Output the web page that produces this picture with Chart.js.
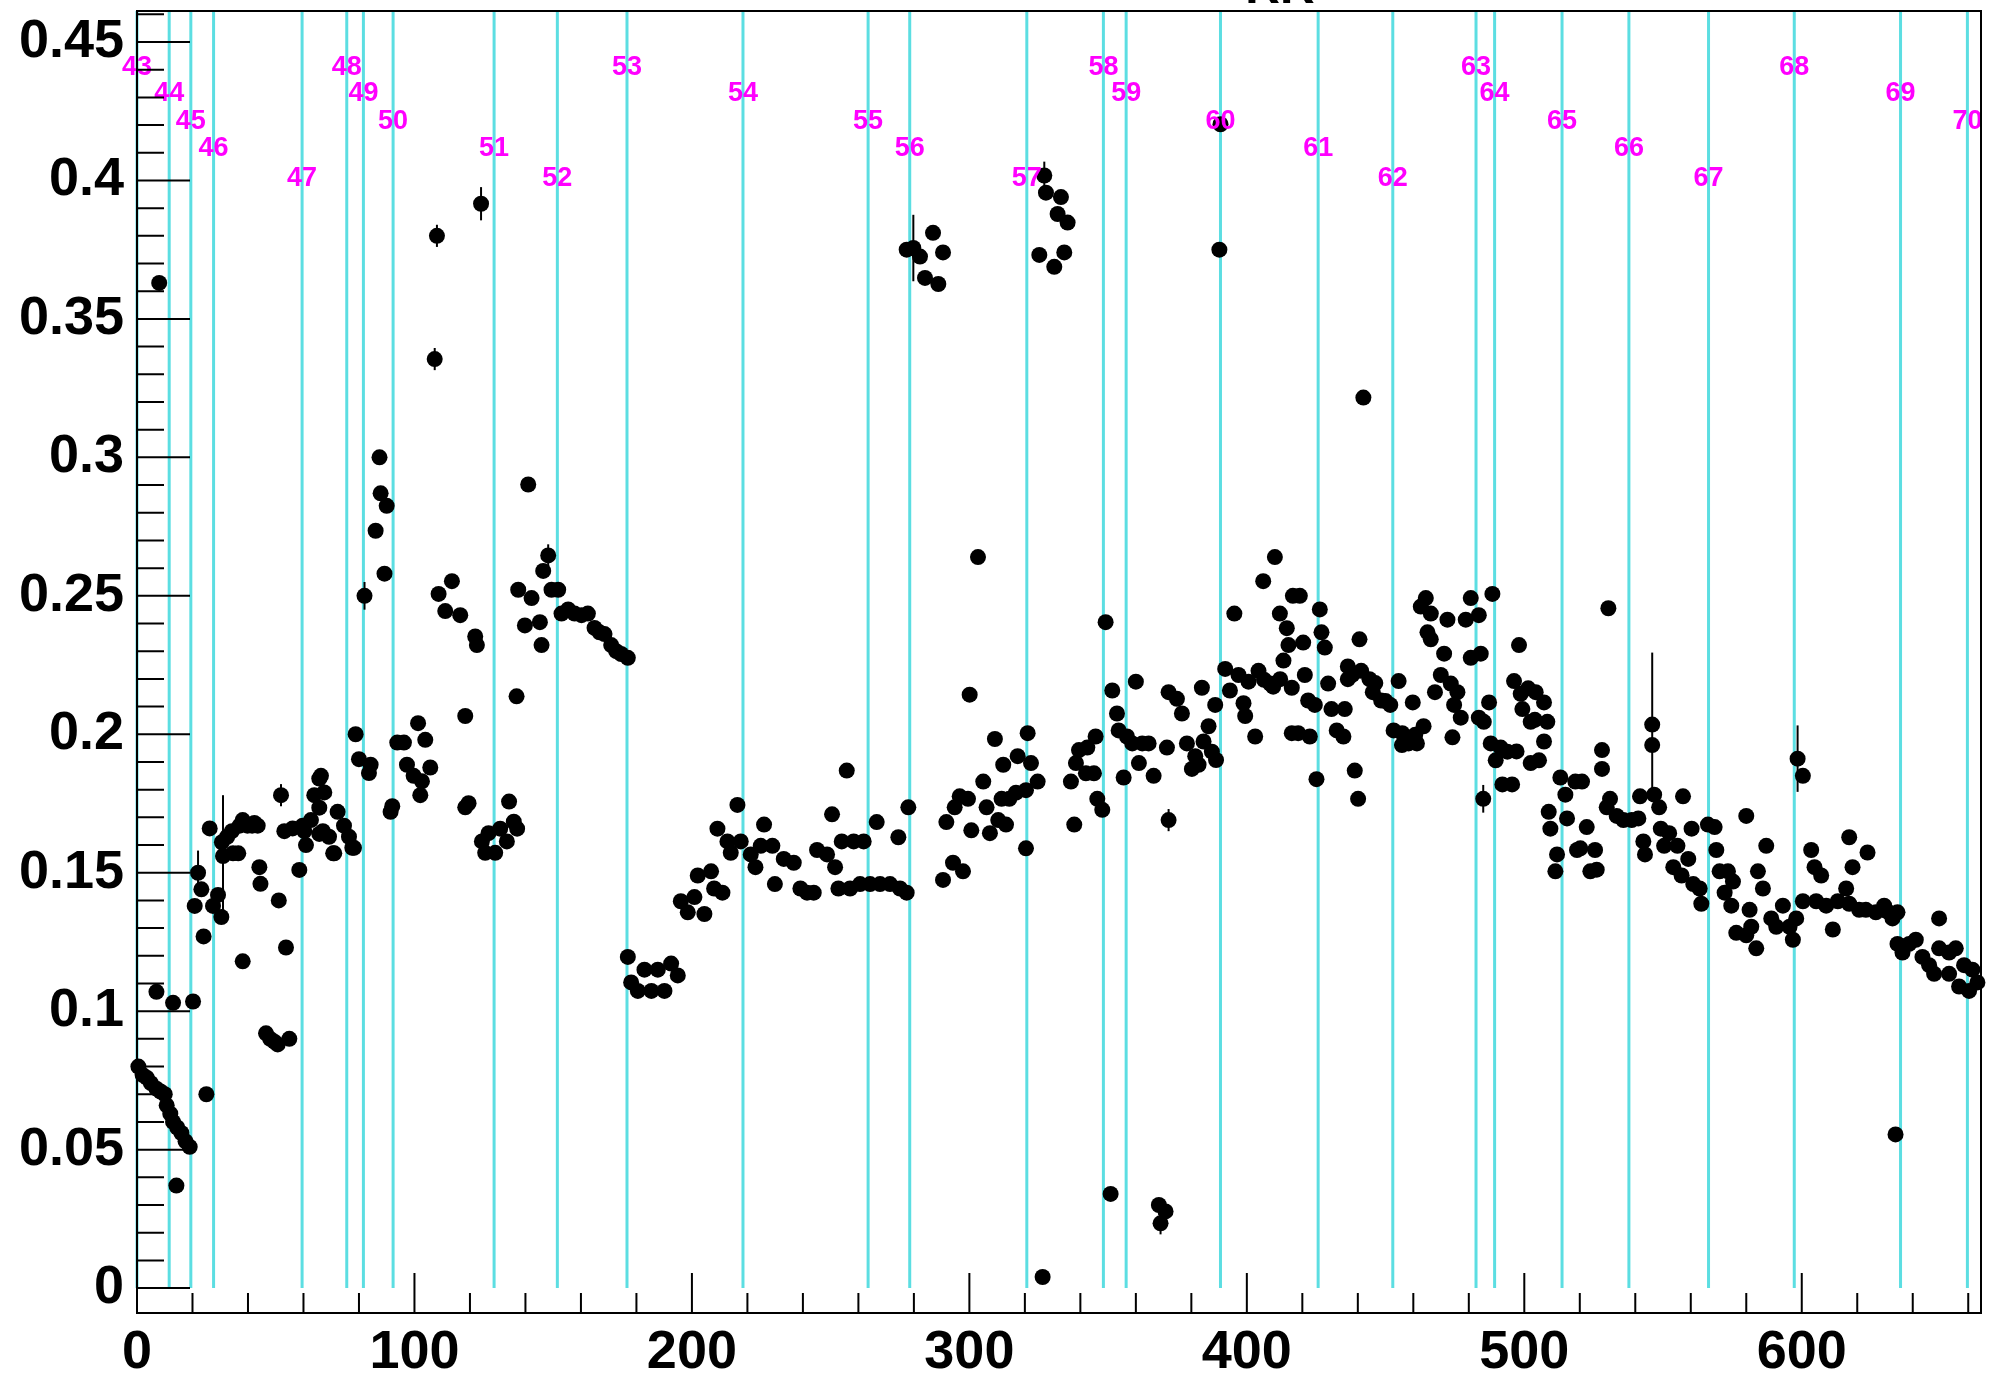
<!DOCTYPE html>
<html>
<head>
<meta charset="utf-8">
<script src="https://cdn.jsdelivr.net/npm/chart.js@4.4.1/dist/chart.umd.min.js"></script>
<style>
  html, body { margin: 0; padding: 0; background: #fff; }
</style>
</head>
<body>
<canvas id="runs" width="1989" height="1373"></canvas>
<script>
// data
const entryX = [
  0.5, 2, 3.5, 5, 7, 7, 8, 8.5, 10, 10.7,
  12, 13, 13, 14.2, 14.5, 16, 17.5, 19, 20.2, 20.8,
  22, 23.2, 24, 25, 26.2, 27.4, 29.2, 30.4, 30.6, 31,
  32.5, 34.2, 34.6, 36.5, 37, 38.1, 38.1, 39.8, 41.5, 42.3,
  43.5, 44.1, 44.5, 46.5, 48, 49.5, 50.7, 51.1, 51.9, 53.1,
  53.7, 54.9, 56.1, 58.5, 59.7, 60.3, 60.9, 62.7, 63.9, 65.7,
  65.7, 65.7, 66.3, 67, 67.5, 69.2, 70.7, 71.1, 72.3, 74.6,
  76.4, 77.6, 78.2, 78.8, 80, 82, 83.6, 84.2, 86, 87.4,
  87.8, 89.2, 90, 91.4, 92, 93.8, 96.2, 97.3, 99.7, 101.3,
  102.1, 102.7, 103.9, 105.7, 107.3, 108.1, 108.7, 111.1, 113.5, 116.5,
  118.3, 118.3, 119.5, 121.9, 122.5, 124, 124.3, 125.5, 126.7, 129.1,
  130.9, 133.3, 134.1, 135.8, 137, 136.8, 137.4, 139.8, 141, 142.2,
  145.2, 145.8, 146.4, 148.2, 149.4, 151.8, 153, 155.4, 157.7, 160.2,
  162.5, 164.9, 166.7, 168.5, 170.9, 172.7, 174.5, 176.9, 176.9, 178.1,
  180.5, 182.9, 185.4, 187.7, 190.1, 192.5, 194.9, 196, 198.5, 200.9,
  202.1, 204.5, 206.9, 208, 209.2, 211, 212.8, 214, 216.4, 217.6,
  221.2, 222.9, 224.8, 226, 229, 229.9, 233.1, 236.7, 239.1, 241.5,
  243.9, 245.1, 248.7, 250.5, 251.6, 252.8, 254, 255.8, 257, 258.3,
  260.6, 261.9, 264.2, 266.6, 267.8, 271.4, 274.4, 275, 277.4, 278,
  277.4, 279.8, 282.2, 284, 286.9, 288.8, 290.5, 290.5, 291.7, 294.1,
  294.7, 296.5, 297.7, 299.5, 300.1, 300.7, 303.1, 305, 306.2, 307.4,
  309.2, 310.4, 311.6, 312.2, 313.2, 314.4, 316.8, 317.4, 320.4, 320.4,
  321, 322.2, 324.6, 325.2, 326.4, 327, 327.6, 330.6, 331.8, 333,
  334.2, 335.4, 336.6, 337.8, 338.4, 339.5, 342, 342.5, 344.9, 345.5,
  346.1, 347.9, 349.1, 350.9, 351.5, 353.2, 353.8, 355.6, 356.8, 358.7,
  360, 361.1, 362.3, 364.6, 366.4, 368.3, 368.9, 370.7, 371.2, 371.8,
  371.8, 374.8, 376.6, 378.4, 380.2, 381.4, 382.6, 383.8, 384.4, 386.2,
  387.4, 388.6, 390.1, 390.5, 392.2, 393.9, 395.5, 397, 398.8, 399.4,
  400.6, 403, 404.2, 405.9, 408.4, 410.1, 411.9, 412, 413.2, 414.4,
  415, 416.2, 416.2, 416.6, 418.5, 419.1, 420.3, 420.9, 422.1, 422.7,
  424.5, 425.1, 426.3, 426.9, 428.1, 429.3, 430.5, 432.4, 434.8, 435.3,
  436.4, 436.4, 438.9, 440.1, 440.6, 441.2, 442, 444.2, 445.4, 448.4,
  451.7, 452.9, 454.7, 455.9, 458.3, 459.8, 461.3, 462.7, 463.7, 464.5,
  465.1, 466.3, 466.3, 467.8, 469.9, 471.1, 472.3, 473.5, 474.1, 474.7,
  475.9, 477.1, 478.9, 480.7, 480.7, 483.6, 483.6, 484.3, 485.2, 485.4,
  487.3, 487.9, 488.5, 489.7, 491.5, 492.1, 493.9, 495.6, 496.3, 498.1,
  498.7, 499.3, 502.3, 502.3, 504.1, 505.3, 507.1, 507.1, 508.3, 508.8,
  509.4, 511.2, 511.8, 513, 514.8, 515.4, 518.4, 519, 520.2, 520.8,
  522.5, 523.8, 525.5, 526.1, 528, 528, 529.7, 530.3, 530.9, 533.3,
  535.7, 538.7, 541.1, 541.7, 542.9, 543.5, 546.1, 546.1, 546.8, 548.6,
  549.2, 550.4, 552.2, 553.7, 555.2, 556.7, 557.2, 559.1, 560.3, 560.9,
  563.2, 563.8, 566.2, 568.6, 569.2, 570.4, 572.2, 573.4, 574.6, 575.2,
  576.4, 580, 580, 581.2, 581.8, 583.6, 584.2, 586, 587.2, 589,
  590.8, 593.2, 595.6, 596.8, 598, 598.5, 600.4, 600.4, 603.4, 604.6,
  605.2, 607, 608.8, 611.2, 613, 616, 617.1, 617.1, 618.3, 620.7,
  623.1, 623.7, 626.7, 629.7, 630.9, 632.7, 633.8, 634.5, 634.5, 636.3,
  638.7, 641.1, 643.5, 645.9, 647.7, 649.5, 649.5, 653.1, 653.1, 655.5,
  656.7, 658.5, 660.3, 661.5, 663.3,
  409.5, 406.2, 388.9, 438, 446.3, 450, 456, 460.7, 497.2, 501.4, 503.8
];

const entryY = [
  0.080, 0.077, 0.076, 0.074, 0.072, 0.107, 0.363, 0.071, 0.070, 0.066,
  0.063, 0.060, 0.103, 0.037, 0.058, 0.056, 0.053, 0.051, 0.1035, 0.138,
  0.150, 0.144, 0.127, 0.070, 0.166, 0.138, 0.142, 0.134, 0.161, 0.156,
  0.163, 0.165, 0.157, 0.157, 0.167, 0.169, 0.118, 0.167, 0.167, 0.168,
  0.167, 0.152, 0.146, 0.092, 0.090, 0.089, 0.088, 0.140, 0.178, 0.165,
  0.123, 0.090, 0.166, 0.151, 0.167, 0.165, 0.160, 0.169, 0.178, 0.184,
  0.1735, 0.164, 0.185, 0.165, 0.179, 0.163, 0.157, 0.157, 0.172, 0.167,
  0.163, 0.159, 0.159, 0.200, 0.191, 0.250, 0.186, 0.189, 0.2735, 0.300,
  0.287, 0.258, 0.2825, 0.172, 0.174, 0.197, 0.197, 0.189, 0.185, 0.204,
  0.178, 0.183, 0.198, 0.188, 0.3355, 0.380, 0.2507, 0.2445, 0.2553, 0.243,
  0.2066, 0.1736, 0.1751, 0.2353, 0.2322, 0.3916, 0.1613, 0.1572, 0.1643, 0.1572,
  0.1659, 0.1613, 0.1757, 0.1684, 0.1659, 0.2137, 0.2522, 0.2393, 0.2902, 0.2492,
  0.2405, 0.2322, 0.259, 0.2646, 0.2522, 0.2522, 0.2436, 0.2451, 0.2436, 0.243,
  0.2436, 0.2384, 0.2368, 0.2362, 0.2322, 0.230, 0.229, 0.2276, 0.1196, 0.1104,
  0.1073, 0.115, 0.1073, 0.115, 0.1073, 0.1172, 0.1129, 0.1397, 0.1357, 0.1412,
  0.149, 0.1351, 0.1505, 0.1443, 0.1659, 0.1428, 0.1613, 0.1572, 0.1745, 0.1613,
  0.1566, 0.152, 0.1597, 0.1674, 0.1597, 0.1459, 0.155, 0.1536, 0.1443, 0.1428,
  0.1428, 0.1582, 0.1566, 0.1711, 0.152, 0.1443, 0.1613, 0.1869, 0.1443, 0.1613,
  0.1459, 0.1613, 0.1459, 0.1683, 0.1459, 0.1459, 0.1628, 0.1443, 0.1428, 0.1736,
  0.375, 0.3756, 0.3725, 0.3648, 0.3811, 0.3626, 0.374, 0.1474, 0.1683, 0.1536,
  0.1736, 0.1776, 0.1505, 0.1767, 0.2143, 0.1653, 0.264, 0.1829, 0.1736, 0.1643,
  0.1983, 0.169, 0.1767, 0.189, 0.1674, 0.1767, 0.1789, 0.1921, 0.1798, 0.1588,
  0.2004, 0.1896, 0.1829, 0.3731, 0.004, 0.4018, 0.3956, 0.3688, 0.3879, 0.394,
  0.374, 0.3848, 0.1829, 0.1674, 0.1896, 0.1943, 0.1859, 0.1952, 0.1859, 0.1992,
  0.1767, 0.1727, 0.2405, 0.034, 0.2158, 0.2075, 0.2014, 0.1844, 0.1992, 0.1967,
  0.219, 0.1896, 0.1967, 0.1967, 0.185, 0.030, 0.0234, 0.0277, 0.1952, 0.2152,
  0.169, 0.2128, 0.2075, 0.1967, 0.1875, 0.1921, 0.189, 0.2168, 0.1974, 0.2029,
  0.1937, 0.2106, 0.375, 0.4203, 0.2236, 0.2158, 0.2436, 0.2214, 0.2112, 0.2066,
  0.219, 0.1992, 0.2229, 0.2553, 0.2183, 0.264, 0.2436, 0.2199, 0.2266, 0.2383,
  0.2322, 0.2168, 0.2004, 0.25, 0.2004, 0.25, 0.2331, 0.2214, 0.2122, 0.1992,
  0.2106, 0.1838, 0.2451, 0.2368, 0.2313, 0.2183, 0.2091, 0.2014, 0.1992, 0.2091,
  0.2245, 0.2199, 0.1869, 0.1767, 0.2343, 0.2229, 0.3216, 0.2199, 0.2152, 0.2122,
  0.2106, 0.2014, 0.2192, 0.1961, 0.1967, 0.2115, 0.1967, 0.2461, 0.2029, 0.2492,
  0.2368, 0.2436, 0.2343, 0.2152, 0.2214, 0.2291, 0.2414, 0.2183, 0.1989, 0.2106,
  0.2152, 0.206, 0.2414, 0.2492, 0.2276, 0.243, 0.206, 0.2291, 0.1767, 0.2045,
  0.2115, 0.1967, 0.2507, 0.1906, 0.1952, 0.1819, 0.1937, 0.1819, 0.2192, 0.2322,
  0.2146, 0.2091, 0.2045, 0.1896, 0.2152, 0.1906, 0.2115, 0.1974, 0.2045, 0.172,
  0.1659, 0.1505, 0.1566, 0.1844, 0.1782, 0.1696, 0.1829, 0.1582, 0.1588, 0.1829,
  0.1665, 0.1505, 0.1582, 0.1511, 0.1943, 0.1875, 0.1736, 0.2455, 0.1767, 0.1705,
  0.169, 0.169, 0.1696, 0.1776, 0.1613, 0.1566, 0.2035, 0.1961, 0.1782, 0.1736,
  0.1659, 0.1597, 0.1643, 0.152, 0.1597, 0.149, 0.1776, 0.155, 0.1659, 0.1459,
  0.1443, 0.1388, 0.1674, 0.1665, 0.1582, 0.1505, 0.1428, 0.1505, 0.1381, 0.1468,
  0.1283, 0.1274, 0.1705, 0.1366, 0.1305, 0.1227, 0.1505, 0.1443, 0.1597, 0.1335,
  0.1305, 0.1381, 0.1305, 0.1258, 0.1335, 0.1912, 0.185, 0.1397, 0.1582, 0.152,
  0.1397, 0.149, 0.1381, 0.1295, 0.1397, 0.1443, 0.1628, 0.1388, 0.152, 0.1366,
  0.1366, 0.1573, 0.1357, 0.1381, 0.136, 0.1335, 0.0555, 0.1357, 0.1243, 0.1212,
  0.1243, 0.1258, 0.1196, 0.1166, 0.1135, 0.1335, 0.1227, 0.1212, 0.1135, 0.1227,
  0.1089, 0.1166, 0.1073, 0.115, 0.1104,
  0.2172, 0.2197, 0.1907, 0.2215, 0.2185, 0.212, 0.2004, 0.1998, 0.1938, 0.2166, 0.2052
];

// points whose error bar sticks out of the marker
const errX = [22, 31, 51.9, 82, 107.3, 108.1, 124, 148.2, 279.8, 327, 368.9, 371.8, 485.2, 546.1, 598.5];
const errY = [0.150, 0.156, 0.178, 0.250, 0.3355, 0.380, 0.3916, 0.2646, 0.3756, 0.4018, 0.0234, 0.169, 0.1767, 0.2035, 0.1912];
const errSize = [0.008, 0.022, 0.004, 0.005, 0.004, 0.004, 0.006, 0.004, 0.012, 0.005, 0.004, 0.004, 0.005, 0.026, 0.012];

// run boundaries
const runStart = [0, 11.6, 19.4, 27.6, 59.5, 75.6, 81.6, 92.3, 128.7, 151.5, 176.6, 218.4, 263.5, 278.5,
  320.7, 348.3, 356.5, 390.5, 425.7, 452.6, 482.6, 489.3, 513.6, 537.7, 566.4, 597.3, 635.6, 659.7];
const runLabels = ["43", "44", "45", "46", "47", "48", "49", "50", "51", "52", "53", "54", "55", "56",
  "57", "58", "59", "60", "61", "62", "63", "64", "65", "66", "67", "68", "69", "70"];
const labelLevels = [0.4409, 0.4313, 0.4212, 0.4116, 0.4006];

const titleText = "RR";

const tickFont = { family: "Liberation Sans", size: 54, weight: "bold" };

const decorations = {
  id: "decorations",
  beforeDatasetsDraw(chart) {
    const { ctx, chartArea, scales: { x, y } } = chart;
    ctx.save();
    ctx.strokeStyle = "rgb(92,222,226)";
    ctx.lineWidth = 3;
    runStart.forEach((v) => {
      const px = x.getPixelForValue(v);
      ctx.beginPath();
      ctx.moveTo(px, y.getPixelForValue(0));
      ctx.lineTo(px, chartArea.top);
      ctx.stroke();
    });

    ctx.strokeStyle = "#000";
    ctx.lineWidth = 2;
    errX.forEach((v, i) => {
      const px = x.getPixelForValue(v);
      ctx.beginPath();
      ctx.moveTo(px, y.getPixelForValue(errY[i] - errSize[i]));
      ctx.lineTo(px, y.getPixelForValue(errY[i] + errSize[i]));
      ctx.stroke();
    });
    ctx.restore();
  },
  afterDatasetsDraw(chart) {
    const { ctx, chartArea, scales: { x, y } } = chart;
    const { left, right, top, bottom } = chartArea;
    ctx.save();

    // run numbers
    ctx.fillStyle = "#ff00ff";
    ctx.font = "bold 27px 'Liberation Sans'";
    ctx.textAlign = "center";
    ctx.textBaseline = "middle";
    runStart.forEach((v, i) => {
      ctx.fillText(runLabels[i], x.getPixelForValue(v), y.getPixelForValue(labelLevels[i % 5]));
    });

    // frame
    ctx.strokeStyle = "#000";
    ctx.lineWidth = 2;
    ctx.strokeRect(left, top, right - left, bottom - top);

    // inward ticks, root style
    ctx.beginPath();
    for (let i = 0; i <= 46; i++) {
      const py = y.getPixelForValue(i / 100);
      const len = i % 5 === 0 ? 53 : 27;
      ctx.moveTo(left, py);
      ctx.lineTo(left + len, py);
    }
    for (let i = 0; i * 20 <= x.max; i++) {
      const px = x.getPixelForValue(i * 20);
      const len = i % 5 === 0 ? 40 : 20;
      ctx.moveTo(px, bottom);
      ctx.lineTo(px, bottom - len);
    }
    ctx.stroke();

    // title, mostly cut off at the top of the picture
    ctx.fillStyle = "#000";
    ctx.font = "bold 48px 'Liberation Sans'";
    ctx.textAlign = "center";
    ctx.textBaseline = "alphabetic";
    ctx.fillText(titleText, 1280, 3);
    ctx.restore();
  },
};

const canvas = document.getElementById("runs");

new Chart(canvas, {
  type: "scatter",
  data: {
    datasets: [
      {
        data: entryX.map((v, i) => ({ x: v, y: entryY[i] })),
        backgroundColor: "#000",
        borderColor: "#000",
        borderWidth: 0,
        pointRadius: 8,
        pointHoverRadius: 8,
        clip: false,
      },
    ],
  },
  options: {
    responsive: false,
    animation: false,
    events: [],
    layout: {
      padding: { top: 11, right: 1, left: 0, bottom: 0 },
    },
    plugins: {
      legend: { display: false },
      tooltip: { enabled: false },
    },
    scales: {
      x: {
        type: "linear",
        min: 0,
        max: 664.6,
        grid: { display: false, drawTicks: false },
        border: { display: false },
        ticks: {
          stepSize: 100,
          includeBounds: false,
          autoSkip: false,
          maxRotation: 0,
          color: "#000",
          font: tickFont,
          padding: 8,
        },
        afterFit: (scale) => {
          scale.height = 60;
          scale.paddingLeft = 0;
          scale.paddingRight = 0;
        },
      },
      y: {
        type: "linear",
        min: -0.009,
        max: 0.4612,
        grid: { display: false, drawTicks: false },
        border: { display: false },
        ticks: {
          stepSize: 0.05,
          includeBounds: false,
          color: "#000",
          font: tickFont,
          padding: 13,
          callback: (v) => String(parseFloat(v.toFixed(2))),
        },
        afterFit: (scale) => {
          scale.width = 137;
          scale.paddingTop = 0;
          scale.paddingBottom = 0;
        },
      },
    },
  },
  plugins: [decorations],
});
</script>
</body>
</html>
